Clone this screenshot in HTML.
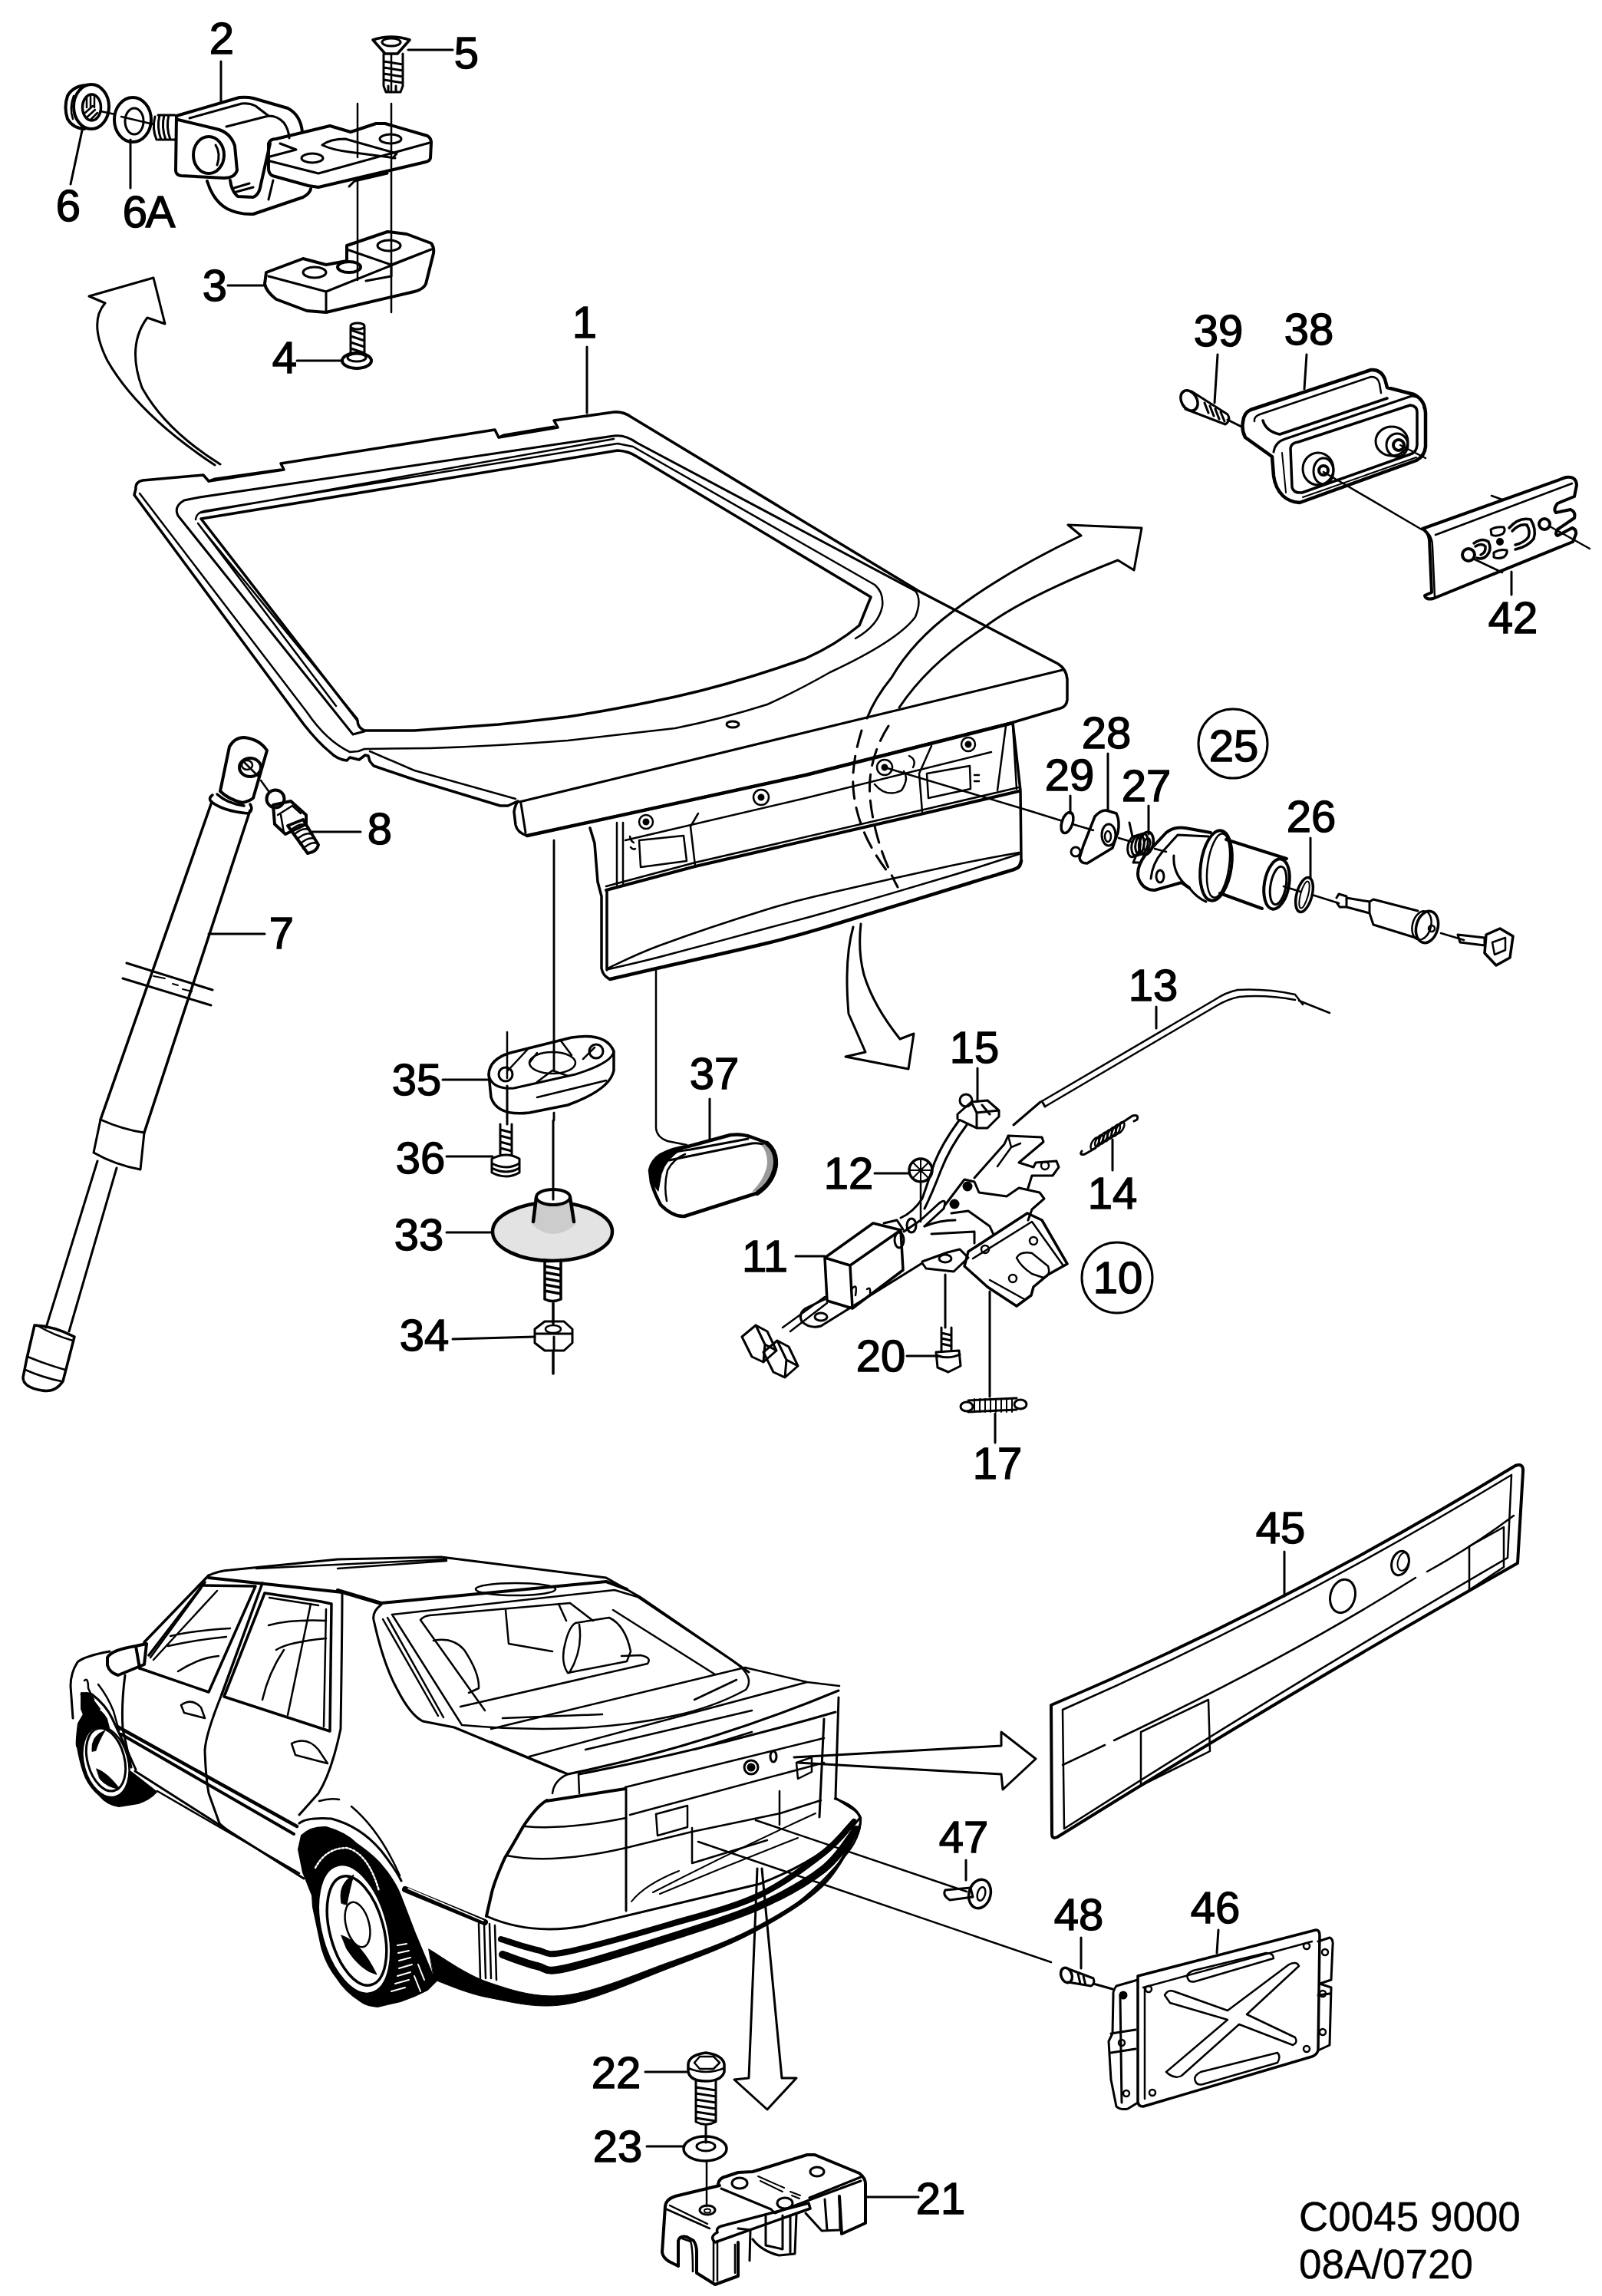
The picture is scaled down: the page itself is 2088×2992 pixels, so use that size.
<!DOCTYPE html>
<html><head><meta charset="utf-8">
<style>
html,body{margin:0;padding:0;background:#fff;}
body{width:2088px;height:2992px;overflow:hidden;}
svg{display:block;}
text{font-family:"Liberation Sans",sans-serif;font-size:58px;fill:#000;stroke:#000;stroke-width:1.4px;}
</style></head><body>
<svg width="2088" height="2992" viewBox="0 0 2088 2992" xmlns="http://www.w3.org/2000/svg">
<g fill="none" stroke="#000" stroke-width="3" stroke-linecap="round" stroke-linejoin="round">

<!-- label leaders top -->
<path d="M288,80 V132 M532,65 H590 M92,240 L107,170 M170,245 V182 M297,372 H345 M387,470 H445 M765,452 V538"/>
<!-- nut 6 -->
<path stroke-width="4" d="M113,111 Q95,112 88,125 Q83,140 88,155 Q95,167 110,168"/>
<path stroke-width="2.5" d="M96,125 Q90,140 95,155"/>
<ellipse cx="119" cy="139" rx="23" ry="29" stroke-width="4"/>
<ellipse cx="119.5" cy="140" rx="12" ry="17" stroke-width="3.5"/>
<path stroke-width="2.5" d="M113,126 V140 M118,124 V140 M123,125 V140 M111,147 L121,138 M113,153 L124,143 M118,156 L127,147"/>
<!-- washer 6A -->
<ellipse cx="173" cy="156" rx="24" ry="29" stroke-width="4"/>
<ellipse cx="175" cy="158" rx="12" ry="17" stroke-width="3"/>
<path stroke-width="2.5" d="M131,145 L150,149 M158,152 L200,162"/>
<!-- stud -->
<path d="M202,152 Q198,168 204,182 M208,150 Q204,166 210,182 M214,150 Q210,166 216,182 M220,150 Q216,166 222,182 M206,150 L228,150 M206,182 L228,182"/>
<!-- hinge 2 block -->
<path stroke-width="4" d="M230,151 L312,127 Q322,126 330,128 L375,141 Q392,150 394,172 M230,151 L229,222 Q229,228 236,229 L292,232 M232,156 L282,168 Q300,172 306,190 L309,222 Q306,232 292,232"/>
<path d="M247,154 L315,135 Q325,134 333,138 L350,151 M295,165 L350,151 Q362,151 370,160 Q376,168 377,180"/>
<ellipse cx="272" cy="202" rx="20" ry="24" stroke-width="4"/>
<path d="M281,189 Q288,200 283,215"/>
<path stroke-width="4" d="M270,236 Q278,262 296,272 Q312,280 330,279 L395,257 Q404,252 405,246 M300,235 Q302,250 310,256 L330,257 Q338,254 340,240 L352,187"/>
<path d="M350,260 L356,235 M305,245 L325,239 M308,250 L330,244"/>
<!-- upper plate -->
<path stroke-width="4" d="M350,187 Q352,181 360,181 L430,164 L457,172 L490,161 L502,161 L557,177 Q562,180 562,186 L561,206 Q560,210 555,211 L415,244 L402,242 L355,229 Q350,226 350,220 Z"/>
<path d="M352,210 L415,226 L560,186 M365,187 L386,195 L352,204"/>
<path d="M420,189 Q430,181 450,181 L517,200 L512,206 M420,189 Q432,195 455,198 L515,206"/>
<ellipse cx="407" cy="206" rx="14" ry="6"/>
<ellipse cx="509" cy="181" rx="14" ry="6"/>
<path d="M455,243 L462,236 L505,226"/>
<!-- axis lines -->
<path stroke-width="2.5" d="M466,135 V205 M466,232 V365 M510,72 V120 M510,135 V407"/>
<!-- screw 5 -->
<path stroke-width="3.5" d="M486,52 Q510,44 534,52 L518,70 L502,70 Z"/>
<path d="M500,70 L500,112 L503,120 L522,120 L525,112 L525,70 M500,80 L525,84 M500,88 L525,92 M500,96 L525,100 M500,104 L525,108 M506,120 V112 M516,120 V112"/>
<ellipse cx="510" cy="55" rx="12" ry="5"/>
<!-- lower plate 3 -->
<path stroke-width="4" d="M347,355 L395,337 L425,345 L452,340 L452,320 L505,302 L530,305 L562,317 Q566,322 565,330 L555,370 Q552,377 540,380 L425,407 L400,405 L360,390 Q347,380 345,370 Z"/>
<path d="M350,360 L425,380 L562,325 M452,325 L510,345 L562,325 M510,345 V360 L477,366 M425,380 L425,405"/>
<ellipse cx="410" cy="355" rx="15" ry="7"/>
<ellipse cx="507" cy="320" rx="15" ry="7"/>
<ellipse cx="455" cy="348" rx="15" ry="7" stroke-width="4"/>
<!-- screw 4 -->
<path d="M457,427 L457,462 M475,427 L475,462 M457,430 L475,436 M457,438 L475,444 M457,446 L475,452 M457,454 L475,460"/>
<ellipse cx="466" cy="425" rx="9" ry="4"/>
<ellipse cx="465" cy="470" rx="19" ry="10" stroke-width="4"/>
<ellipse cx="465" cy="466" rx="12" ry="5"/>
<!-- left curved arrow -->
<path stroke-width="3" d="M280,606 Q180,540 140,470 Q115,420 137,395 L116,386 L200,362 L215,422 L192,414 Q165,450 185,505 Q215,560 287,605"/>

<!-- tailgate outer -->
<path stroke-width="3.5" d="M177,637 Q176,628 186,626 L265,619 L272,627 L370,612 L366,604 L645,560 L650,570 L727,557 L722,548 L800,537 Q812,536 822,543 L1197,770 L1379,865 Q1390,872 1391,885 L1391,912 Q1390,921 1382,923 L1318,942 L1050,1010 L687,1089 Q674,1085 672,1075 L670,1058 Q671,1050 675,1044 L662,1050 L652,1050 L540,1016 L487,998 L482,992 L480,985 L476,984 L468,990 L456,987 L452,991 Q440,990 430,980 Q415,968 396,944 L175,645 Z"/>
<path d="M272,627 L280,624 L365,612 M650,570 L656,567 L722,556"/>
<path stroke-width="2.5" d="M182,643 L400,928 Q425,965 456,980 L467,979 L475,976 L560,975 Q650,972 740,965 Q800,958 880,949 Q940,937 1000,918 Q1040,900 1082,876 Q1170,835 1193,804 Q1202,782 1193,770"/>
<path stroke-width="2.5" d="M482,979 L540,1004 L672,1041"/>
<path d="M677,1045 L1385,873 M679,1047 L685,1085"/>
<!-- surround -->
<path stroke-width="3" d="M475,953 L460,957 L232,672 Q226,660 240,652 L260,648 L800,568 Q815,566 830,577 L1193,770"/>
<!-- seal -->
<path stroke-width="2.5" d="M255,677 Q256,668 266,666 L805,578 L825,582 L1140,762 Q1152,772 1150,790 Q1145,815 1115,832 M262,668 L800,572 M258,682 L438,920 M264,690 L466,937"/>
<!-- glass -->
<path stroke-width="3.5" d="M262,676 L805,587 Q820,588 830,595 L1135,778 L1120,815 Q1090,840 1050,858 Q960,890 880,908 Q800,925 740,934 Q690,940 650,944 L540,952 L475,952 Q466,948 466,939 Z"/>
<ellipse cx="955" cy="944" rx="8" ry="4" stroke-width="3"/>


<!-- lower panel -->
<path stroke-width="4.5" d="M687,1089 L1050,1010 L1320,942"/>
<path stroke-width="3.5" d="M769,1079 L775,1099 L779,1149 L784,1168 L784,1262 Q786,1272 795,1276 M1331,1122 L1330,1030 L1320,942 M791,1160 V1264"/>
<path stroke-width="4.5" d="M795.0,1276.0 C805.8,1273.5 825.8,1268.8 860.0,1261.0 C894.2,1253.2 963.3,1238.0 1000.0,1229.0 C1036.7,1220.0 1035.7,1220.2 1080.0,1207.0 C1124.3,1193.8 1229.0,1161.3 1266.0,1150.0 C1303.0,1138.7 1292.0,1142.2 1302.0,1139.0 C1312.0,1135.8 1321.2,1133.8 1326.0,1131.0 C1330.8,1128.2 1330.2,1123.5 1331.0,1122.0"/>
<path stroke-width="2.5" d="M793.0,1263.0 C804.2,1260.3 825.5,1255.9 860.0,1247.0 C894.5,1238.1 963.3,1219.3 1000.0,1209.5 C1036.7,1199.7 1040.0,1199.4 1080.0,1188.0 C1120.0,1176.6 1198.7,1153.5 1240.0,1141.0 C1281.3,1128.5 1313.3,1117.7 1328.0,1113.0 M792.0,1262.0 C803.3,1257.0 825.3,1244.8 860.0,1232.0 C894.7,1219.2 963.3,1196.3 1000.0,1185.0 C1036.7,1173.7 1040.0,1173.5 1080.0,1164.0 C1120.0,1154.5 1198.7,1136.8 1240.0,1128.0 C1281.3,1119.2 1313.3,1113.8 1328.0,1111.0 M790,1155 L906,1124 L1200,1056 L1328,1026"/>
<path stroke-width="4" d="M790,1160 L906,1129 L1200,1061 L1328,1031"/>
<path stroke-width="2.5" d="M815,1095 L1050,1040 L1292,980"/>
<path stroke-width="2.5" d="M804,1072 V1153 M812,1072 V1151 M1311,946 L1300,1030 M1320,944 L1325,1028"/>
<path stroke-width="2.5" d="M833,1095 L891,1089 L895,1122 L835,1130 Z M1208,1008 L1264,998 L1265,1028 L1210,1040 Z M910,1060 L900,1077 L906,1128 M1214,972 L1198,1008 L1202,1058"/>
<circle cx="842" cy="1071" r="9" stroke-width="2.5"/><circle cx="842" cy="1071" r="3" fill="#000"/>
<circle cx="992" cy="1039" r="10" stroke-width="2.5"/><circle cx="992" cy="1039" r="3" fill="#000"/>
<circle cx="1153" cy="1000" r="10" stroke-width="2.5"/><circle cx="1153" cy="1000" r="3" fill="#000"/>
<circle cx="1262" cy="970" r="9" stroke-width="2.5"/><circle cx="1262" cy="970" r="3" fill="#000"/>
<path stroke-width="2.5" d="M1140,1022 Q1155,1040 1175,1030 Q1185,1015 1178,1005 M1185,985 Q1195,990 1190,1000"/>
<path stroke-width="2.5" d="M1153,1000 L1340,1056"/>
<path stroke-width="2.5" d="M821,1090 Q822,1096 826,1098 M822,1104 Q825,1108 828,1106 M1270,1010 h6 M1270,1018 h6"/>
<!-- lip right bottom corner & vertical leaders -->
<path stroke-width="2.5" d="M722,1095 V1395 M722,1450 V1460 M855,1265 V1470 Q856,1482 870,1487 L895,1492"/>
<!-- swoop arrow -->
<path stroke-width="3" d="M1409,698 L1392,684 L1488,688 L1478,743 L1457,730 Q1330,780 1281,819 Q1210,865 1172,922 M1409,698 Q1310,745 1243,796 Q1190,835 1162,883 Q1140,910 1130,936"/>
<path stroke-width="3" stroke-dasharray="22,12" d="M1123,952 Q1108,1000 1113,1036 Q1120,1090 1160,1140 M1158,946 Q1130,990 1134,1040 Q1140,1100 1170,1156"/>
<path stroke-width="3" d="M1112,1208 Q1100,1250 1106,1321 L1128,1371 L1102,1377 L1184,1393 L1191,1347 L1173,1354 Q1138,1310 1126,1270 Q1118,1240 1122,1204"/>
<!-- strut 7 -->
<path stroke-width="4" d="M287,1031 L299,973 Q306,961 318,961 Q338,963 348,978 L330,1040 Q325,1044 316,1046 Q298,1042 287,1031 Z"/>
<ellipse cx="326" cy="1000" rx="14" ry="12" stroke-width="4"/>
<ellipse cx="322" cy="997" rx="7" ry="6" stroke-width="2.5"/>
<path stroke-width="2.5" d="M316,991 L337,1012"/>
<path stroke-width="3.5" d="M277,1036 Q270,1041 277,1046 Q292,1057 323,1060 Q331,1056 326,1048 M283,1035 Q296,1047 318,1050"/>
<path stroke-width="3.5" d="M276,1045 L131,1459 M326,1056 L188,1476"/>
<path stroke-width="3" d="M131,1459 L122,1502 Q150,1518 183,1524 L188,1476 M131,1459 Q160,1472 188,1476"/>
<path stroke-width="3" d="M127,1513 L60,1730 M152,1522 L90,1735"/>
<path stroke-width="3.5" d="M45,1727 Q70,1728 97,1742 L82,1800 Q72,1815 55,1812 Q30,1808 30,1795 L35,1770 Z"/>
<path stroke-width="2.5" d="M36,1768 Q60,1778 85,1785 M33,1785 Q55,1795 80,1800 M48,1727 Q70,1740 95,1747"/>
<path stroke-width="3" d="M165,1255 L277,1290 M160,1275 L275,1310"/>
<path stroke-width="2" d="M200,1272 L215,1275 M225,1282 L232,1284 M238,1289 L250,1292"/>
<!-- bolt 8 -->
<path stroke-width="2.5" d="M340,1017 L350,1031"/>
<circle cx="359" cy="1041" r="11.5" stroke-width="4"/>
<path stroke-width="4" d="M356,1049 L379,1044 L399,1062 L399,1074 L372,1087 L358,1074 Z"/>
<path stroke-width="2.5" d="M362,1062 L381,1050 M366,1062 L370,1085 M381,1050 L392,1060"/>
<path stroke-width="4" d="M375,1076 L395,1068 L415,1101 Q413,1110 401,1112 Z"/>
<path stroke-width="2.5" d="M379,1082 Q390,1072 398,1075 M383,1088 Q394,1078 402,1081 M387,1094 Q398,1084 406,1087 M391,1100 Q402,1090 410,1093 M395,1106 Q406,1096 413,1099"/>
<path stroke-width="3" d="M407,1084 H470 M272,1217 H345 M577,1407 H635 M582,1507 H642 M582,1606 H642 M590,1745 L697,1742"/>
<!-- pad 35 -->
<path stroke-width="3.5" d="M637,1400 Q638,1380 665,1372 L745,1352 Q790,1345 800,1370 L800,1395 Q795,1420 740,1440 L690,1450 Q648,1455 640,1430 Z"/>
<path stroke-width="3" d="M637,1400 Q640,1420 670,1418 L750,1400 Q798,1385 800,1370"/>
<path stroke-width="2.5" d="M662,1395 L690,1365 M700,1410 L720,1395 L740,1402 M775,1365 L760,1380 M730,1355 L745,1375 M700,1372 L690,1385 M700,1430 L790,1408"/>
<ellipse cx="720" cy="1385" rx="30" ry="14" stroke-width="2.5"/>
<circle cx="659" cy="1400" r="9" stroke-width="3"/>
<circle cx="777" cy="1370" r="9" stroke-width="3"/>
<path stroke-width="2.5" d="M661,1345 V1405 M722,1095 V1395 M722,1450 V1460"/>
<!-- bolt 36 -->
<path stroke-width="3" d="M652,1465 V1505 M667,1465 V1505 M652,1472 L667,1476 M652,1480 L667,1484 M652,1488 L667,1492 M652,1496 L667,1500 M661,1415 V1465"/>
<path stroke-width="3" d="M641,1510 Q660,1500 677,1510 L677,1528 Q660,1538 641,1528 Z M641,1516 Q660,1526 677,1516 M641,1522 Q660,1532 677,1522"/>
<!-- washer 33 -->
<ellipse cx="720" cy="1605" rx="78" ry="38" stroke-width="4.5" fill="#e3e3e3"/>
<path stroke-width="0" fill="#cccccc" d="M699,1562 L694,1596 Q720,1620 750,1596 L744,1562 Z"/>
<path stroke-width="4.5" d="M699,1560 L695,1592 M743,1560 L748,1592"/>
<ellipse cx="721" cy="1560" rx="22" ry="10" stroke-width="4" fill="#fff"/>
<path stroke-width="3" d="M721,1460 V1563"/>
<path stroke-width="3.5" d="M710,1642 V1693 M731,1642 V1693 M710,1650 L731,1654 M710,1658 L731,1662 M710,1666 L731,1670 M710,1674 L731,1678 M710,1682 L731,1686 M710,1693 Q720,1698 731,1693 M721,1698 V1725 M721,1762 V1790"/>
<!-- nut 34 -->
<path stroke-width="3" d="M697,1732 L710,1722 L735,1722 L746,1732 L746,1750 L735,1760 L710,1760 L697,1750 Z M697,1738 L746,1738 M722,1742 V1760"/>
<ellipse cx="721" cy="1732" rx="10" ry="5" stroke-width="2.5"/>
<!-- pad 37 -->
<path stroke-width="3" d="M925,1432 V1485"/>
<path stroke-width="4.5" d="M847,1525 Q850,1512 861,1505 Q878,1496 897,1494 L952,1479 Q967,1477 980,1482 L999,1489 Q1010,1497 1012,1516 Q1010,1540 986,1555 L892,1585 Q877,1586 861,1570 Q853,1555 849,1541 Z"/>
<path fill="#000" stroke-width="1" d="M849,1541 Q846,1522 858,1507 Q872,1498 890,1497 Q868,1510 862,1530 L858,1552 Z"/>
<path stroke-width="3" d="M862,1506 Q880,1500 900,1498 L975,1484 M872,1512 L980,1490 Q995,1488 1005,1497"/>
<path stroke-width="2.5" d="M869,1565 Q865,1545 870,1525 Q878,1510 893,1504"/>
<path fill="#9a9a9a" stroke-width="0" d="M999,1491 Q1011,1500 1010,1516 Q1008,1538 988,1552 L980,1553 Q998,1535 1000,1516 Q1000,1500 992,1492 Z"/>
<path stroke-width="6" d="M1000,1490 Q1012,1500 1011,1516 Q1009,1540 987,1555"/>
<!-- lock leaders -->
<path stroke-width="3" d="M1444,982 V1055 M1395,1037 V1060 M1497,1050 V1087 M1708,1092 V1145 M1507,1312 V1340"/>
<circle cx="1607" cy="969" r="45" stroke-width="3"/>
<!-- axis -->
<path stroke-width="2.5" d="M1340,1056 L1385,1070 M1398,1074 L1425,1082 M1458,1092 L1475,1097 M1505,1106 L1520,1110 M1673,1155 L1695,1162 M1710,1166 L1745,1177 M1878,1216 L1908,1225"/>
<!-- washer 29 -->
<ellipse cx="1391" cy="1072" rx="7" ry="14" transform="rotate(18 1391 1072)" stroke-width="3.5"/>
<!-- cam 28 -->
<path stroke-width="3.5" d="M1427,1064 Q1435,1055 1442,1056 L1455,1060 Q1460,1070 1457,1085 L1450,1105 L1417,1125 Q1408,1125 1407,1118 L1412,1102 Z"/>
<ellipse cx="1445" cy="1088" rx="9" ry="14" stroke-width="3"/>
<ellipse cx="1444" cy="1090" rx="4" ry="7" stroke-width="2.5"/>
<circle cx="1402" cy="1110" r="6" stroke-width="3"/>
<!-- spring 27 -->
<path stroke-width="3" d="M1472,1072 L1476,1090 M1480,1117 L1477,1124 L1484,1124"/>
<ellipse cx="1478" cy="1103.0" rx="8" ry="14" transform="rotate(12 1478 1103.0)" stroke-width="3"/>
<ellipse cx="1483" cy="1101.5" rx="8" ry="14" transform="rotate(12 1483 1101.5)" stroke-width="3"/>
<ellipse cx="1488" cy="1100.0" rx="8" ry="14" transform="rotate(12 1488 1100.0)" stroke-width="3"/>
<ellipse cx="1494" cy="1099" rx="9" ry="15" transform="rotate(12 1494 1099)" stroke-width="3.5"/>
<ellipse cx="1495" cy="1100" rx="4" ry="8" transform="rotate(12 1495 1100)" stroke-width="2.5"/>
<!-- lock housing 25 -->
<path stroke-width="4" d="M1484,1145 Q1480,1132 1492,1115 L1520,1085 Q1530,1077 1545,1079 L1578,1085 M1484,1145 Q1490,1160 1505,1160 L1540,1150 L1550,1157"/>
<path stroke-width="3" d="M1500,1145 Q1502,1125 1515,1110 L1535,1088 L1575,1090 M1530,1115 Q1528,1140 1550,1157 Q1560,1170 1572,1175"/>
<ellipse cx="1512" cy="1142" rx="5" ry="8" stroke-width="3"/>
<ellipse cx="1585" cy="1128" rx="20" ry="46" transform="rotate(8 1585 1128)" stroke-width="4"/>
<ellipse cx="1588" cy="1128" rx="14" ry="42" transform="rotate(8 1588 1128)" stroke-width="2.5"/>
<path stroke-width="4" d="M1598,1094 L1677,1119 M1590,1164 L1645,1184"/>
<ellipse cx="1664" cy="1152" rx="16" ry="33" transform="rotate(10 1664 1152)" stroke-width="4"/>
<ellipse cx="1666" cy="1154" rx="10" ry="25" transform="rotate(10 1666 1154)" stroke-width="3"/>
<!-- o-ring 26 -->
<ellipse cx="1700" cy="1166" rx="10" ry="23" transform="rotate(15 1700 1166)" stroke-width="3.5"/>
<ellipse cx="1700" cy="1166" rx="5" ry="18" transform="rotate(15 1700 1166)" stroke-width="2"/>
<!-- key cylinder -->
<path stroke-width="3" d="M1742,1170 L1745,1165 L1755,1168 L1755,1182 L1746,1182 L1742,1176 M1755,1170 L1785,1175 L1785,1190 L1755,1182 M1785,1175 L1790,1172 L1848,1187 M1790,1205 L1845,1222 M1785,1190 L1790,1205"/>
<ellipse cx="1860" cy="1208" rx="14" ry="21" transform="rotate(15 1860 1208)" stroke-width="3.5"/>
<ellipse cx="1853" cy="1206" rx="12" ry="19" transform="rotate(15 1853 1206)" stroke-width="2.5"/>
<circle cx="1866" cy="1210" r="4" stroke-width="2.5"/>
<!-- key -->
<path stroke-width="3" d="M1900,1218 L1935,1222 L1935,1232 L1903,1228 Z"/>
<path stroke-width="3.5" d="M1937,1218 L1955,1210 L1972,1220 L1968,1248 L1950,1258 L1935,1242 Z"/>
<path stroke-width="2.5" d="M1945,1228 L1962,1222 L1962,1238 L1948,1244 Z"/>
<!-- cable 13 -->
<path stroke-width="2.5" d="M1358,1435 L1583,1303 Q1598,1293 1613,1290 Q1650,1288 1688,1296 L1698,1309 M1362,1442 L1585,1311 Q1600,1302 1615,1299 Q1650,1296 1688,1303 M1693,1304 L1733,1320"/>
<path stroke-width="3" d="M1358,1435 L1362,1442"/>

<!-- latch leaders -->
<path stroke-width="3" d="M1274,1392 V1435 M1140,1529 H1184 M1450,1485 V1525 M1037,1637 H1075 M1182,1767 H1220 M1297,1842 V1880 M1290,1683 V1820 M1232,1661 V1730"/>
<circle cx="1456" cy="1665" r="46" stroke-width="3"/>
<!-- clip 15 -->
<path stroke-width="3" d="M1248,1452 L1266,1436 L1287,1434 L1302,1447 L1302,1455 L1287,1470 L1273,1470 L1248,1458 Z M1266,1436 L1273,1450 L1302,1447 M1273,1450 L1273,1470 M1280,1440 L1290,1452"/>
<circle cx="1259" cy="1434" r="8" stroke-width="3"/>
<path stroke-width="3" d="M1250,1460 Q1228,1490 1218,1515 Q1208,1545 1202,1562 Q1190,1580 1174,1587 M1260,1466 Q1238,1495 1226,1526 Q1215,1555 1205,1575"/>
<!-- grommet 12 -->
<circle cx="1200" cy="1525" r="15" stroke-width="3.5"/>
<path stroke-width="2" d="M1190,1515 L1210,1535 M1210,1515 L1190,1535 M1200,1511 V1539 M1186,1525 H1214"/>
<path stroke-width="2.5" d="M1200,1540 V1592"/>
<path stroke-width="3" d="M1321,1466 L1356,1436"/>
<!-- actuator 11 -->
<path stroke-width="3.5" d="M1075,1639 L1138,1594 L1174,1603 L1108,1649 Z M1075,1639 L1078,1695 L1111,1705 L1108,1649 M1174,1603 L1177,1655 L1111,1705"/>
<path stroke-width="3" d="M1152,1594 L1169,1590 L1177,1602 M1178,1605 L1200,1590 L1224,1568 Q1235,1560 1230,1575 L1205,1598"/>
<ellipse cx="1172" cy="1616" rx="6" ry="10" stroke-width="3"/>
<ellipse cx="1188" cy="1597" rx="6" ry="9" stroke-width="3"/>
<path stroke-width="2.5" d="M1110,1680 Q1118,1670 1115,1688 M1130,1680 Q1135,1676 1134,1685"/>
<!-- base plate -->
<path stroke-width="3" d="M1050,1705 Q1040,1712 1045,1722 Q1055,1732 1070,1728 L1202,1646 L1207,1653 L1243,1657 L1262,1639 L1251,1628 L1235,1632 L1202,1644 M1050,1705 L1075,1693"/>
<ellipse cx="1070" cy="1716" rx="8" ry="5" stroke-width="3"/>
<ellipse cx="1232" cy="1640" rx="8" ry="5" stroke-width="3"/>
<path stroke-width="2.5" d="M1075,1690 L1020,1730 M1078,1698 L1030,1735"/>
<!-- connectors -->
<path stroke-width="3" d="M967,1742 L985,1727 L1000,1735 L1012,1760 L995,1775 L980,1768 Z M985,1727 L997,1752 L1012,1760 M997,1752 L995,1775"/>
<path stroke-width="3" d="M995,1762 L1013,1747 L1028,1755 L1040,1780 L1023,1795 L1008,1788 Z M1013,1747 L1025,1772 L1040,1780 M1025,1772 L1023,1795"/>
<!-- latch body -->
<path stroke-width="3.5" d="M1262,1631 L1339,1581 L1358,1590 L1391,1647 L1366,1661 L1347,1677 L1344,1688 L1325,1702 L1287,1677 L1257,1650 Z"/>
<path stroke-width="2.5" d="M1268,1640 L1345,1592 L1385,1648 M1290,1668 L1335,1693 M1325,1639 Q1330,1630 1345,1633 L1366,1650 Q1370,1662 1360,1665 L1345,1660 Q1330,1650 1325,1639 Z"/>
<circle cx="1284" cy="1628" r="5" stroke-width="2.5"/>
<circle cx="1347" cy="1617" r="5" stroke-width="2.5"/>
<circle cx="1320" cy="1666" r="5" stroke-width="2.5"/>
<!-- upper lever plate -->
<path stroke-width="3" d="M1232,1570 L1257,1537 L1270,1540 L1276,1554 L1312,1559 L1328,1548 L1355,1554 L1361,1562 L1345,1576 L1340,1590 M1240,1581 L1262,1578 L1290,1598 L1295,1609 M1214,1608 L1270,1605 L1270,1620 M1205,1598 Q1225,1590 1245,1590"/>
<path stroke-width="3" d="M1270,1535 L1309,1491 L1314,1480 L1358,1482 L1360,1488 L1328,1515 L1347,1521 L1350,1515 L1377,1513 L1380,1521 L1372,1532 L1345,1532 L1340,1548"/>
<path stroke-width="2.5" d="M1314,1480 L1318,1495 L1330,1490 M1318,1495 L1300,1520"/>
<circle cx="1261" cy="1546" r="5" fill="#000"/>
<circle cx="1244" cy="1569" r="5" fill="#000"/>
<circle cx="1362" cy="1519" r="5" stroke-width="2.5"/>
<!-- spring 14 -->
<path stroke-width="3" d="M1428,1496 L1414,1504 Q1406,1506 1410,1500 M1458,1466 L1476,1454 Q1485,1452 1482,1459 L1478,1461"/>
<ellipse cx="1427.0" cy="1490.0" rx="4" ry="8.5" transform="rotate(30 1427.0 1490.0)" stroke-width="2.5"/>
<ellipse cx="1432.5" cy="1486.6" rx="4" ry="8.5" transform="rotate(30 1432.5 1486.6)" stroke-width="2.5"/>
<ellipse cx="1438.0" cy="1483.2" rx="4" ry="8.5" transform="rotate(30 1438.0 1483.2)" stroke-width="2.5"/>
<ellipse cx="1443.5" cy="1479.8" rx="4" ry="8.5" transform="rotate(30 1443.5 1479.8)" stroke-width="2.5"/>
<ellipse cx="1449.0" cy="1476.4" rx="4" ry="8.5" transform="rotate(30 1449.0 1476.4)" stroke-width="2.5"/>
<ellipse cx="1454.5" cy="1473.0" rx="4" ry="8.5" transform="rotate(30 1454.5 1473.0)" stroke-width="2.5"/>
<ellipse cx="1460.0" cy="1469.6" rx="4" ry="8.5" transform="rotate(30 1460.0 1469.6)" stroke-width="2.5"/>
<!-- bolt 20 -->
<path stroke-width="3" d="M1227,1730 V1760 M1240,1730 V1760 M1227,1737 L1240,1740 M1227,1744 L1240,1747 M1227,1751 L1240,1754"/>
<path stroke-width="3" d="M1220,1762 L1250,1760 L1252,1780 L1236,1788 L1222,1782 Z M1220,1766 Q1236,1772 1251,1765"/>
<!-- spring 17 -->
<path stroke-width="3" d="M1262,1825 L1325,1822 M1262,1840 L1325,1837"/>
<ellipse cx="1260" cy="1833" rx="8" ry="6" stroke-width="3"/>
<ellipse cx="1330" cy="1830" rx="8" ry="6" stroke-width="3"/>
<path stroke-width="2" d="M1270,1823 V1840 M1277,1823 V1840 M1284,1823 V1840 M1291,1823 V1840 M1298,1823 V1840 M1305,1823 V1840 M1312,1823 V1840 M1319,1823 V1840"/>

<!-- bracket 38 + bolt 39 -->
<path stroke-width="3" d="M1587,462 L1583,525 M1703,462 L1700,507"/>
<ellipse cx="1550" cy="522" rx="10" ry="14" transform="rotate(-30 1550 522)" stroke-width="3.5"/>
<path stroke-width="3" d="M1553,510 L1600,540 Q1605,548 1597,553 L1545,533 M1570,525 L1575,538 M1577,529 L1582,542 M1584,533 L1589,546 M1591,537 L1596,549 M1600,547 L1620,557"/>
<path stroke-width="4.5" d="M1620,550 Q1621,538 1630,534 L1787,482 Q1800,481 1805,494 L1808,505 L1843,514 Q1857,521 1858,538 L1858,582 Q1857,594 1846,600 L1694,655 Q1680,654 1672,646 Q1662,636 1660,620 L1658,595 L1623,570 Q1618,560 1620,550 Z"/>
<path stroke-width="2.5" d="M1635,549 Q1634,543 1642,540 L1787,491 Q1796,491 1798,500 L1800,512"/>
<path stroke-width="3.5" d="M1646,548 Q1650,562 1668,566 L1808,519"/>
<path stroke-width="3" d="M1660,589 Q1662,576 1675,572 L1840,516 Q1856,517 1856,532"/>
<path stroke-width="3.5" d="M1682,584 Q1683,577 1692,576 L1838,528 Q1847,529 1847,537 L1847,580 Q1846,590 1838,592 L1697,642 Q1686,643 1684,635 Z"/>
<path stroke-width="2" d="M1671,590 L1676,642 M1698,648 L1846,596"/>
<ellipse cx="1718" cy="611" rx="20" ry="21" stroke-width="3"/>
<ellipse cx="1725" cy="614" rx="13" ry="17" stroke-width="3"/>
<circle cx="1725" cy="613" r="6" stroke-width="4"/>
<ellipse cx="1814" cy="575" rx="21" ry="19" stroke-width="3"/>
<ellipse cx="1821" cy="580" rx="14" ry="15" stroke-width="3"/>
<circle cx="1823" cy="580" r="7" stroke-width="4"/>
<path stroke-width="2.5" d="M1725,615 L1853,690 M1825,580 L1858,597"/>
<!-- plate 42 -->
<path stroke-width="3" d="M1970,745 V775"/>
<path stroke-width="4" d="M1854,689 L2041,622 Q2054,620 2055,632 L2052,647 L2030,656 Q2024,664 2028,668 L2047,664 Q2054,667 2052,675 L2030,690 Q2026,696 2030,698 L2049,688 Q2055,690 2054,696 L2050,706 L1868,780 Q1858,782 1857,776 L1866,772 L1863,703 Q1862,694 1854,689 Z"/>
<path stroke-width="2.5" d="M1860,694 Q1867,700 1867,712 L1870,778 M1871,697 L2049,630"/>
<path stroke-width="3.5" d="M1921,708 Q1932,700 1940,706 Q1945,716 1938,724 Q1932,730 1925,727 M1923,712 Q1931,707 1936,712 Q1937,720 1930,723"/>
<path stroke-width="3" d="M1943,690 Q1950,686 1960,687 Q1963,692 1958,696 Q1950,700 1944,697 Z M1947,720 Q1955,715 1964,717 Q1965,722 1960,726 Q1952,729 1947,726 Z"/>
<circle cx="1955" cy="706" r="3.5" fill="#000"/>
<path stroke-width="3.5" d="M1967,688 Q1980,673 1995,677 Q2003,690 1999,702 Q1992,712 1975,716 M1971,692 Q1980,682 1990,684 Q1995,692 1992,700 Q1987,707 1975,710"/>
<circle cx="1914" cy="723" r="8" stroke-width="4"/>
<circle cx="2013" cy="683" r="7" stroke-width="4"/>
<path stroke-width="2.5" d="M1920,728 L1958,746 M2020,686 L2072,715 M1944,646 L1958,651"/>
<!-- car -->
<g stroke-width="3">
<!-- roof -->
<path d="M272,2053 Q285,2047 300,2046 L440,2032 L575,2029 L790,2056 L834,2081 L952,2162 L976,2179"/>
<path stroke-width="2.5" d="M334,2044 L582,2032 M440,2044 L582,2034"/>
<path stroke-width="4" d="M272,2056 L446,2075 L497,2090 M440,2072 L497,2089 L790,2061 L817,2071"/>
<ellipse cx="672" cy="2071" rx="52" ry="8" stroke-width="2.5"/>
<path stroke-width="2.5" d="M511,2104 L801,2072 L831,2081 L956,2165 Q985,2185 972,2202 Q930,2225 878,2236 Q760,2262 602,2248 L511,2104"/>
<!-- c-pillar -->
<path d="M497,2091 Q485,2100 487,2111 Q500,2170 518,2202 Q535,2235 551,2243 L592,2251 L662,2280 L730,2308"/>
<path stroke-width="2.5" d="M499,2110 L571,2236 M505,2108 L578,2238"/>
<!-- interior -->
<path stroke-width="2.5" d="M548,2111 Q552,2106 560,2105 L743,2089 L773,2112 M548,2111 L632,2229 M565,2138 Q590,2133 605,2150 Q625,2180 624,2200 L611,2206 M600,2224 L844,2168 Q850,2160 835,2157 L810,2158 M659,2098 L663,2142 L720,2152 M728,2090 L738,2112"/>
<path stroke-width="2.5" d="M750,2115 L794,2108 Q815,2118 822,2152 L817,2165 L740,2180 Q730,2165 737,2140 Q742,2120 750,2115 M755,2117 Q760,2150 742,2180"/>
<path stroke-width="2.5" d="M799,2098 L932,2182 M655,2239 L785,2234 M905,2215 L960,2189"/>
<path stroke-width="2.5" d="M763,2280 L980,2229 M905,2280 L980,2257"/>
<!-- a-pillar and front window -->
<path stroke-width="3.5" d="M272,2053 L188,2140 M267,2062 L194,2157"/>
<path stroke-width="3.5" d="M264,2066 L333,2067 L272,2205 L182,2174"/>
<path stroke-width="2.5" d="M262,2070 L196,2160 M283,2073 L200,2163 M222,2132 Q250,2125 300,2122 M219,2145 Q255,2137 295,2133 M232,2178 Q260,2160 285,2158"/>
<!-- mirror -->
<path stroke-width="4" d="M140,2160 Q145,2150 177,2145 L191,2142 L188,2169 L154,2183 Q143,2180 140,2170 Z M177,2145 L182,2174"/>
<path d="M143,2152 Q110,2158 101,2166 Q92,2180 92,2197 L95,2239"/>
<path d="M106,2208 Q112,2205 120,2208 Q138,2222 146,2239 L163,2275 L177,2306"/>
<path stroke-width="2.5" d="M110,2190 Q115,2185 115,2200 L122,2215 M128,2195 Q140,2210 148,2230 L155,2255"/>
<path d="M163,2183 Q158,2220 160,2253 L171,2303"/>
<!-- b-pillar, rear window -->
<path stroke-width="3.5" d="M342,2063 L289,2208 M345,2076 L418,2087 L432,2090 L430,2256 L292,2211 Z"/>
<path stroke-width="2.5" d="M351,2082 L415,2092 M405,2090 L375,2235 M425,2097 L422,2250 M350,2118 Q380,2110 425,2112 M360,2150 Q375,2140 425,2135 M342,2215 Q350,2180 370,2150"/>
<path d="M289,2208 Q268,2260 267,2281 Q268,2315 272,2337 L286,2376"/>
<path d="M446,2076 Q446,2120 444,2253 Q432,2310 415,2337 L390,2365"/>
<path stroke-width="2.5" d="M236,2222 Q250,2212 262,2225 L267,2239 L240,2232 Z M380,2272 Q400,2262 415,2280 L427,2298 L385,2287 Z"/>
<!-- side strips -->
<path stroke-width="4.5" d="M153,2250 L387,2380"/>
<path stroke-width="4" d="M158,2260 L383,2390"/>
<path stroke-width="3" d="M176,2308 L289,2380 L396,2448"/>
<path stroke-width="2.5" d="M205,2334 L390,2441 M286,2376 L300,2388"/>
<!-- front wheel -->
<path fill="#000" stroke-width="2" d="M102,2246 Q98,2277 101,2277 Q105,2300 111,2315 Q118,2330 130,2340 Q140,2352 155,2354 L180,2350 Q195,2345 204,2335 L172,2310 L155,2302 L139,2240 Q132,2228 124,2227 Q112,2230 109,2234 Z"/>
<path fill="#000" stroke-width="2" d="M106,2206 L115,2207 L130,2227 L110,2237 L106,2227 Z"/>
<ellipse cx="138" cy="2296" rx="29" ry="47" transform="rotate(-15 138 2296)" fill="#fff" stroke-width="2.5"/>
<ellipse cx="138" cy="2293" rx="24" ry="42" transform="rotate(-15 138 2293)" stroke-width="3"/>
<path fill="#000" stroke-width="1" d="M120,2282 Q118,2262 137,2255 Q128,2270 125,2281 Z M126,2305 Q140,2310 156,2331 Q140,2330 130,2318 Z"/>
<!-- rear arch & wheel -->
<path d="M390,2376 Q400,2368 432,2370 Q470,2380 497,2412 Q515,2435 523,2451"/>
<path stroke-width="2.5" d="M416,2347 Q430,2343 442,2345 M458,2354 Q495,2385 521,2444"/>
<path fill="#000" stroke-width="2" d="M393,2392 Q405,2380 425,2381 Q450,2388 464,2402 Q490,2420 500,2434 Q515,2452 522,2470 L542,2522 L563,2572 L569,2581 L557,2593 Q540,2602 522,2608 L492,2615 Q478,2614 470,2608 Q450,2595 440,2579 Q425,2560 419,2537 L408,2485 L407,2470 L395,2440 L389,2410 Z"/>
<path stroke="#fff" stroke-width="2.5" stroke-dasharray="2.5,2.5" d="M411,2434 Q425,2408 452,2408 Q480,2415 494,2464"/>
<ellipse cx="462" cy="2514" rx="43" ry="86" transform="rotate(-15 462 2514)" fill="#fff" stroke-width="2.5"/>
<ellipse cx="465" cy="2516" rx="35" ry="73" transform="rotate(-15 465 2516)" stroke-width="3.5"/>
<ellipse cx="466" cy="2508" rx="15" ry="30" transform="rotate(-15 466 2508)" stroke-width="2.5"/>
<path fill="#000" stroke-width="1" d="M445,2480 Q440,2455 461,2443 Q455,2465 452,2482 Z M445,2522 Q470,2530 491,2573 Q470,2568 452,2540 Z"/>
<path stroke="#fff" stroke-width="2" d="M518,2535 L530,2533 M519,2545 L533,2542 M520,2555 L535,2551 M520,2565 L537,2560 M518,2575 L535,2570 M515,2585 L533,2580 M510,2595 L528,2590 M545,2560 L553,2580 M540,2575 L548,2595"/>
<path stroke-width="8" d="M528,2462 L632,2505"/>
<path stroke="#fff" stroke-width="1.5" d="M532,2461 L630,2503"/>
<path stroke-width="2.5" d="M624,2507 L626,2578 M631,2507 L633,2578 M638,2507 L640,2578 M645,2509 L647,2580"/>
</g>
<!-- car rear -->
<g stroke-width="3">
<path stroke-width="2.5" d="M640,2253 L971,2173 L1052,2192 M690,2289 L1052,2192 L1094,2197"/>
<path d="M640,2270 L740,2312 Q920,2275 1093,2203 M755,2312 Q920,2280 1089,2231"/>
<path stroke-width="2.5" d="M720,2337 Q722,2320 740,2312 M754,2312 L755,2337 M815,2329 L1074,2265 M821,2365 L1074,2297"/>
<path stroke-width="4" d="M712,2347 L815,2331 M713,2346 Q700,2353 682,2380 Q665,2410 658,2421 Q645,2450 641,2466 L634,2497"/>
<path d="M816,2331 V2490 M1074,2240 L1068,2368 M1093,2212 L1089,2343 L1114,2359 Q1125,2368 1120,2380"/>
<path stroke-width="2.5" d="M684,2380 Q737,2385 816,2369 M660,2418 Q720,2430 816,2408 L902,2387 L1017,2363 L1070,2346 M1038,2297 L1058,2290 L1058,2309 L1040,2318 Z"/>
<path stroke-width="2.5" d="M902,2382 V2428 L1000,2398 M1016,2334 V2378 M855,2364 L896,2353 L896,2381 L857,2392 Z"/>
<path stroke-width="2" d="M823,2478 Q840,2456 885,2438 M851,2466 Q960,2410 1063,2363 M860,2468 Q950,2430 1040,2395"/>
<path d="M634,2497 Q690,2522 760,2510 L990,2455 Q1080,2420 1120,2370"/>
<path stroke-width="8" d="M653.0,2527.0 C660.8,2529.3 686.0,2538.2 700.0,2541.0 C714.0,2543.8 708.3,2549.5 737.0,2544.0 C765.7,2538.5 830.3,2520.2 872.0,2508.0 C913.7,2495.8 953.5,2486.5 987.0,2471.0 C1020.5,2455.5 1052.0,2431.2 1073.0,2415.0 C1094.0,2398.8 1106.3,2380.8 1113.0,2374.0"/>
<path stroke-width="10" d="M655.0,2547.0 C662.5,2549.5 686.3,2559.0 700.0,2562.0 C713.7,2565.0 708.3,2571.2 737.0,2565.0 C765.7,2558.8 830.3,2538.3 872.0,2525.0 C913.7,2511.7 953.5,2499.8 987.0,2485.0 C1020.5,2470.2 1051.5,2452.8 1073.0,2436.0 C1094.5,2419.2 1108.8,2392.7 1116.0,2384.0"/>
<path fill="#000" stroke-width="1" d="M559.0,2540.0 C571.8,2547.2 606.3,2573.0 636.0,2583.0 C665.7,2593.0 697.7,2604.3 737.0,2600.0 C776.3,2595.7 831.3,2571.5 872.0,2557.0 C912.7,2542.5 947.5,2530.5 981.0,2513.0 C1014.5,2495.5 1049.7,2474.7 1073.0,2452.0 C1096.3,2429.3 1113.0,2389.5 1121.0,2377.0 L1121.0,2384.0 C1113.0,2396.3 1096.3,2435.5 1073.0,2458.0 C1049.7,2480.5 1014.5,2501.2 981.0,2519.0 C947.5,2536.8 912.7,2549.5 872.0,2565.0 C831.3,2580.5 776.3,2605.7 737.0,2612.0 C697.7,2618.3 664.5,2608.3 636.0,2603.0 C607.5,2597.7 577.7,2583.8 566.0,2580.0 Z"/>
<path stroke-width="2.5" d="M1088,2344 Q1115,2352 1122,2369 Q1122,2395 1100,2420 Q1050,2480 1000,2505"/>
<circle cx="979" cy="2303" r="9"/><circle cx="979" cy="2303" r="4" fill="#000"/>
<ellipse cx="1008" cy="2289" rx="4" ry="7"/>
</g>
<!-- arrow to 45 -->
<path stroke-width="3" d="M1035,2290 L1305,2275 L1305,2257 L1350,2292 L1307,2332 L1305,2312 L1040,2297"/>
<path stroke-width="2.5" d="M985,2372 L1260,2465 M910,2400 L1370,2557"/>
<path stroke-width="3" d="M987,2435 L976,2708 M993,2435 L1019,2708 M976,2708 L957,2710 L1000,2749 L1038,2708 L1019,2708"/>

<!-- plate 45 -->
<path stroke-width="3" d="M1674,2022 V2080"/>
<path stroke-width="4" d="M1370,2222 Q1673,2094 1975,1910 Q1986,1906 1985,1918 L1978,2037 Q1690,2200 1378,2394 Q1371,2397 1371,2390 Z"/>
<path stroke-width="2.5" d="M1385,2228 Q1673,2102 1970,1922 L1965,2030 Q1690,2190 1387,2383 Z"/>
<path stroke-width="2.5" d="M1385,2300 L1440,2274 M1452,2268 Q1680,2160 1845,2056 M1860,2048 Q1920,2015 1973,1975"/>
<path stroke-width="2.5" d="M1487,2257 L1575,2215 L1577,2282 L1487,2327 Z M1915,2015 L1960,1990 L1960,2042 L1915,2072 Z"/>
<ellipse cx="1750" cy="2080" rx="16" ry="22" transform="rotate(15 1750 2080)" stroke-width="3"/>
<ellipse cx="1825" cy="2037" rx="11" ry="16" transform="rotate(15 1825 2037)" stroke-width="3"/>
<ellipse cx="1829" cy="2035" rx="7" ry="12" transform="rotate(15 1829 2035)" stroke-width="2"/>
<!-- grommet 47 -->
<path stroke-width="3" d="M1259,2424 V2450 M1232,2463 L1265,2460 L1268,2472 L1238,2476 Q1228,2470 1232,2463 Z"/>
<ellipse cx="1277" cy="2468" rx="14" ry="19" transform="rotate(15 1277 2468)" stroke-width="3.5"/>
<ellipse cx="1279" cy="2468" rx="5" ry="9" transform="rotate(15 1279 2468)" stroke-width="2.5"/>
<!-- bolt 48 -->
<path stroke-width="3" d="M1409,2525 V2565"/>
<ellipse cx="1390" cy="2574" rx="7" ry="10" transform="rotate(-20 1390 2574)" stroke-width="3.5"/>
<path stroke-width="3" d="M1393,2566 L1425,2578 Q1428,2585 1422,2588 L1392,2583 M1405,2572 L1408,2585 M1412,2575 L1415,2587 M1425,2585 L1450,2592"/>
<!-- bracket 46 -->
<path stroke-width="3" d="M1588,2515 L1586,2545"/>
<path stroke-width="3.5" d="M1483,2575 L1715,2515 Q1720,2515 1720,2522 L1718,2672 Q1716,2678 1710,2680 L1490,2745 Q1483,2745 1483,2738 Z"/>
<path stroke-width="2.5" d="M1490,2590 L1710,2530 M1492,2590 L1492,2735"/>
<path stroke-width="3" d="M1483,2580 L1455,2588 Q1450,2595 1451,2600 L1450,2650 L1445,2660 L1448,2710 L1455,2745 Q1460,2750 1470,2748 L1483,2740 M1460,2600 L1462,2740 M1448,2650 L1480,2645 M1448,2675 L1480,2670"/>
<path stroke-width="3" d="M1718,2530 L1733,2525 Q1738,2527 1737,2535 L1735,2580 L1720,2585 M1720,2585 L1735,2590 L1733,2665 L1718,2672 M1733,2598 L1718,2600"/>
<path stroke-width="2.5" d="M1548,2578 Q1545,2572 1555,2568 L1650,2545 Q1660,2545 1660,2552 L1558,2582 Q1550,2584 1548,2578 Z"/>
<path stroke-width="2.5" d="M1558,2712 Q1555,2705 1565,2700 L1665,2675 Q1670,2680 1665,2688 L1568,2716 Q1560,2718 1558,2712 Z"/>
<path stroke-width="2.5" d="M1518,2600 Q1522,2592 1530,2595 L1600,2620 L1680,2560 Q1690,2555 1693,2562 L1625,2625 L1688,2655 Q1692,2662 1685,2665 L1615,2638 L1540,2705 Q1530,2710 1520,2700 L1600,2632 L1525,2610 Z"/>
<circle cx="1497" cy="2592" r="4" stroke-width="2.5"/><circle cx="1703" cy="2536" r="4" stroke-width="2.5"/>
<circle cx="1703" cy="2670" r="4" stroke-width="2.5"/><circle cx="1502" cy="2727" r="4" stroke-width="2.5"/>
<circle cx="1464" cy="2600" r="4" fill="#000"/><circle cx="1462" cy="2662" r="4" stroke-width="2.5"/>
<circle cx="1468" cy="2728" r="4" stroke-width="2.5"/><circle cx="1727" cy="2544" r="4" stroke-width="2.5"/>
<circle cx="1724" cy="2598" r="4" stroke-width="2.5"/><circle cx="1724" cy="2648" r="4" stroke-width="2.5"/>
<!-- bolt 22 / washer 23 -->
<path stroke-width="3" d="M841,2700 H895 M843,2797 H892 M1130,2863 H1197"/>
<path stroke-width="3.5" d="M897,2690 Q898,2678 920,2675 Q942,2678 944,2690 L944,2700 Q940,2712 920,2712 Q900,2712 897,2700 Z"/>
<path stroke-width="2.5" d="M905,2688 L912,2680 L930,2680 L938,2688 L930,2696 L912,2696 Z M897,2695 Q920,2705 944,2695"/>
<path stroke-width="3" d="M907,2712 V2765 Q920,2772 933,2765 V2712 M907,2720 L933,2724 M907,2728 L933,2732 M907,2736 L933,2740 M907,2744 L933,2748 M907,2752 L933,2756 M907,2760 L933,2764 M920,2770 V2792"/>
<ellipse cx="919" cy="2800" rx="28" ry="16" stroke-width="3.5"/>
<ellipse cx="920" cy="2797" rx="12" ry="6" stroke-width="3"/>
<path stroke-width="2.5" d="M921,2818 V2875"/>
<!-- bracket 21 -->
<path stroke-width="4" d="M938,2848 L880,2862 Q868,2866 867,2875 L863,2935 Q864,2942 872,2947 L884,2953 L884,2920 Q886,2913 895,2915 L904,2920 Q908,2926 908,2935 L908,2962 L932,2977 L962,2966 L962,2922"/>
<path stroke-width="2.5" d="M869,2879 L925,2904 M873,2874 L922,2898 M889,2917 L900,2921 Q903,2928 903,2960 M930,2920 V2972 M935,2920 V2972 M958,2925 L958,2962"/>
<path stroke-width="4" d="M936,2846 Q937,2838 947,2836 L962,2831 L981,2830 L1052,2808 L1062,2808 L1120,2832 Q1128,2838 1128,2846 L1128,2897 L1097,2911 L1094,2862"/>
<path stroke-width="3" d="M940,2852 L1005,2879 L1010,2884 L1052,2868 L1122,2842 M1055,2864 L1122,2837"/>
<path stroke-width="3.5" d="M935,2909 Q924,2915 932,2922 L1056,2878 L1054,2871 L940,2901 Q933,2903 935,2909"/>
<path stroke-width="3" d="M1094,2862 L1095,2906 L1071,2907 L1050,2884 M1075,2866 L1078,2906"/>
<path stroke-width="3" d="M962,2904 L978,2906 L977,2946 M981,2918 Q992,2933 1015,2939 L1036,2937 L1038,2886 M998,2886 L998,2926 L1020,2931 L1020,2887 M1030,2887 V2935"/>
<ellipse cx="964" cy="2845" rx="10" ry="7" stroke-width="3"/>
<ellipse cx="1023" cy="2871" rx="10" ry="7" stroke-width="3"/>
<ellipse cx="1065" cy="2830" rx="9" ry="6" stroke-width="3"/>
<ellipse cx="922" cy="2880" rx="10" ry="6" stroke-width="3"/>
<ellipse cx="922" cy="2881" rx="4" ry="2.5" stroke-width="2"/>
<path stroke-width="2" d="M988,2836 L1022,2851 M991,2842 L1020,2856 M1030,2856 L1043,2861 M1032,2861 L1042,2865"/>

</g>
<g text-anchor="middle">

<text x="289" y="70">2</text>
<text x="608" y="89">5</text>
<text x="89" y="288">6</text>
<text x="176" y="296">6</text><text x="209" y="296">A</text>
<text x="280" y="392">3</text>
<text x="371" y="486">4</text>
<text x="762" y="440">1</text>
<text x="1588" y="451">39</text>
<text x="1706" y="449">38</text>
<text x="1972" y="825">42</text>
<text x="1442" y="975">28</text>
<text x="1394" y="1030">29</text>
<text x="1494" y="1044">27</text>
<text x="1608" y="992">25</text>
<text x="1709" y="1084">26</text>
<text x="1503" y="1304">13</text>
<text x="1270" y="1385">15</text>
<text x="931" y="1419">37</text>


<text x="495" y="1100">8</text>
<text x="367" y="1236">7</text>
<text x="543" y="1427">35</text>
<text x="548" y="1529">36</text>
<text x="546" y="1629">33</text>
<text x="553" y="1760">34</text>

<text x="1106" y="1549">12</text>
<text x="1450" y="1575">14</text>
<text x="997" y="1657">11</text>
<text x="1457" y="1685">10</text>
<text x="1148" y="1787">20</text>
<text x="1300" y="1927">17</text>

<text x="1669" y="2011">45</text>
<text x="1256" y="2414">47</text>
<text x="1406" y="2515">48</text>
<text x="1584" y="2506">46</text>
<text x="803" y="2721">22</text>
<text x="805" y="2817">23</text>
<text x="1226" y="2885">21</text>
<text x="1693" y="2907" text-anchor="start" style="font-size:53px;stroke-width:0.4px">C0045 9000</text>
<text x="1693" y="2969" text-anchor="start" style="font-size:53px;stroke-width:0.4px">08A/0720</text>
</g>
</svg>
</body></html>
